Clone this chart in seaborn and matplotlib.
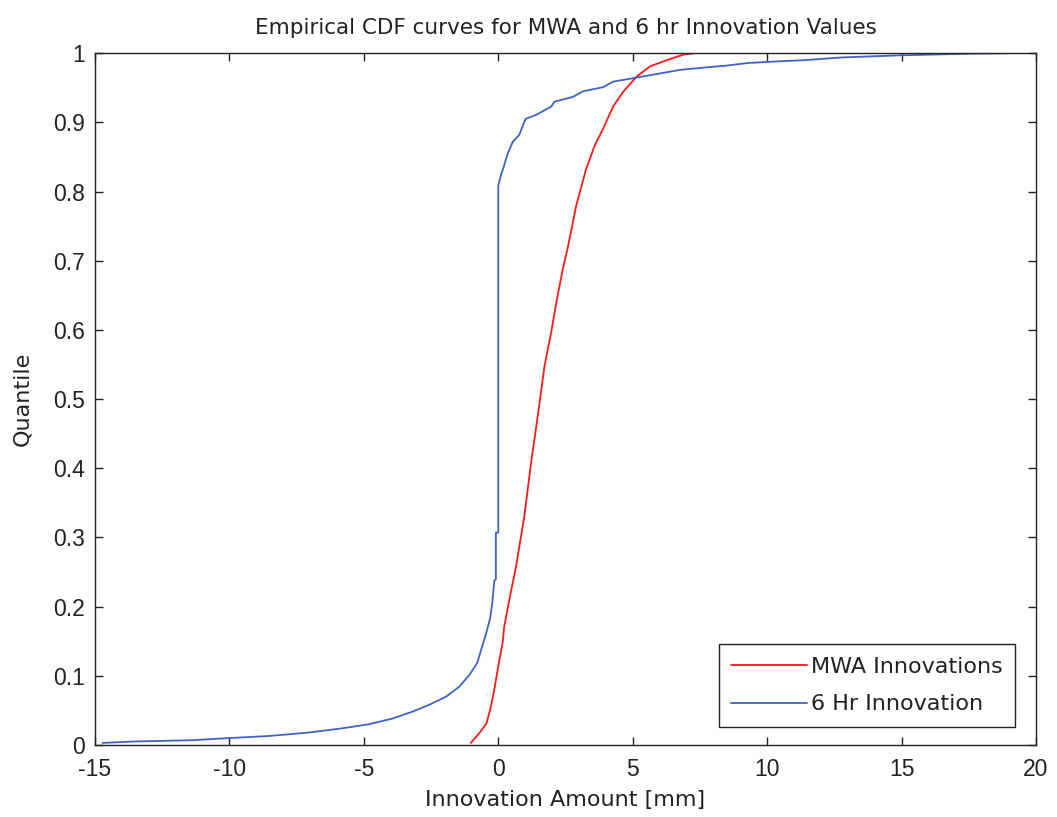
import matplotlib
matplotlib.use("Agg")
import matplotlib.pyplot as plt
import seaborn as sns
import pandas as pd
from matplotlib.lines import Line2D

# ---- data ----
mwa_x = [-1.02, -0.71, -0.44, -0.27, -0.15, 0.04, 0.16, 0.22, 0.41, 0.66, 0.97,
         1.22, 1.47, 1.72, 1.97, 2.16, 2.40, 2.59, 2.90, 3.27, 3.59, 3.90, 4.27,
         4.64, 5.14, 5.64, 6.26, 6.88, 7.30]
mwa_q = [0.003, 0.017, 0.031, 0.056, 0.080, 0.123, 0.147, 0.171, 0.210, 0.258, 0.331,
         0.408, 0.476, 0.548, 0.597, 0.640, 0.688, 0.720, 0.780, 0.833, 0.867, 0.891, 0.923,
         0.944, 0.966, 0.981, 0.990, 0.998, 1.000]

hr6_x = [-14.72, -13.63, -11.36, -10.05, -8.55, -7.06, -5.83, -4.82, -3.96, -3.21,
         -2.58, -1.94, -1.46, -1.08, -0.78, -0.62, -0.46, -0.30, -0.22, -0.15,
         -0.09, -0.09, 0.0, 0.0, 0.10, 0.22, 0.35, 0.54, 0.78, 1.01, 1.41, 1.97,
         2.09, 2.78, 3.15, 3.90, 4.27, 5.02, 5.89, 6.76, 7.57, 8.44, 9.31, 10.25,
         11.37, 12.80, 14.92, 17.66, 19.0]
hr6_q = [0.003, 0.005, 0.007, 0.010, 0.013, 0.018, 0.024, 0.030, 0.038, 0.048,
         0.058, 0.070, 0.084, 0.101, 0.119, 0.140, 0.160, 0.184, 0.206, 0.237,
         0.240, 0.307, 0.307, 0.809, 0.824, 0.838, 0.855, 0.872, 0.882, 0.905, 0.911, 0.923,
         0.930, 0.937, 0.945, 0.951, 0.959, 0.964, 0.970, 0.976, 0.979, 0.982, 0.986, 0.988,
         0.990, 0.994, 0.997, 0.9995, 1.000]

series_names = ["MWA Innovations", "6 Hr Innovation"]
series_colors = ["#ff1a1a", "#3f63c2"]

x_ticks = [-15, -10, -5, 0, 5, 10, 15, 20]
y_ticks = [0, 0.1, 0.2, 0.3, 0.4, 0.5, 0.6, 0.7, 0.8, 0.9, 1]
y_ticklabels = ["0", "0.1", "0.2", "0.3", "0.4", "0.5", "0.6", "0.7", "0.8", "0.9", "1"]

df = pd.concat([
    pd.DataFrame({"x": mwa_x, "q": mwa_q, "series": series_names[0]}),
    pd.DataFrame({"x": hr6_x, "q": hr6_q, "series": series_names[1]}),
], ignore_index=True)

sns.set_style("ticks")
plt.rcParams["font.family"] = ["DejaVu Sans"]

fig = plt.figure(figsize=(10.57, 8.17), dpi=100)
ax = fig.add_axes([0.0899, 0.0881, 0.9801 - 0.0899, 0.9348 - 0.0881])

sns.lineplot(data=df, x="x", y="q", hue="series", hue_order=series_names,
             palette=dict(zip(series_names, series_colors)), sort=False,
             estimator=None, units="series", linewidth=1.3, ax=ax, legend=False)

ax.set_xlim(-15, 20)
ax.set_ylim(0, 1)
ax.set_xticks(x_ticks)
ax.set_xticklabels([str(t) for t in x_ticks])
ax.set_yticks(y_ticks)
ax.set_yticklabels(y_ticklabels)

for s in ax.spines.values():
    s.set_visible(True)
    s.set_color("#222222")
    s.set_linewidth(1.0)

ax.tick_params(direction="in", length=6, width=1.0, color="#222222",
               top=True, right=True, labelsize=16.5, labelcolor="#222222")
ax.tick_params(axis="x", pad=9)
ax.tick_params(axis="y", pad=7)
for lab in ax.get_xticklabels() + ax.get_yticklabels():
    lab.set_family(["Liberation Sans", "DejaVu Sans"])

ax.set_title("Empirical CDF curves for MWA and 6 hr Innovation Values",
             fontsize=15.5, color="#222222", pad=14)
ax.set_xlabel("Innovation Amount [mm]", fontsize=16, color="#222222", labelpad=7)
ax.set_ylabel("Quantile", fontsize=16, color="#222222", labelpad=15)

handles = [Line2D([0], [0], color=c, lw=1.3) for c in series_colors]
leg = ax.legend(handles, series_names, loc="lower right",
                bbox_to_anchor=(0.978, 0.0265), borderaxespad=0,
                fontsize=16, frameon=True, fancybox=False, framealpha=1,
                edgecolor="#222222", handlelength=3.4, handletextpad=0.2,
                labelspacing=0.8, borderpad=0.55)
leg.get_frame().set_linewidth(1.0)
for t in leg.get_texts():
    t.set_color("#222222")

fig.savefig("out.png", dpi=100)
